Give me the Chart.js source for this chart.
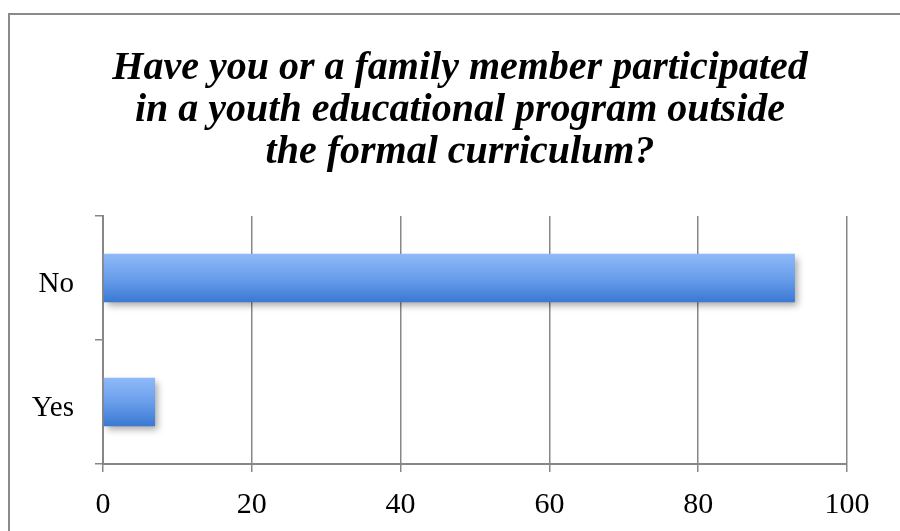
<!DOCTYPE html>
<html>
<head>
<meta charset="utf-8">
<script src="https://cdn.jsdelivr.net/npm/chart.js@4/dist/chart.umd.min.js"></script>
<style>
  html, body { margin: 0; padding: 0; background: #fff; }
  .frame {
    position: absolute; left: 8px; top: 13px; width: 1000px; height: 600px;
    border-left: 2px solid #8a8a8a; border-top: 2px solid #8a8a8a;
  }
  #wrap { position: absolute; left: 0; top: 0; width: 900px; height: 531px; }
</style>
</head>
<body>
<div class="frame"></div>
<div id="wrap"><canvas id="barChart" width="900" height="531"></canvas></div>
<script>
const titleLines = [
  'Have you or a family member participated',
  'in a youth educational program outside',
  'the formal curriculum?'
];
const answers = ['No', 'Yes'];
const responses = [93, 7];
const xTicks = [0, 20, 40, 60, 80, 100];

const serif = '"Liberation Serif", "Times New Roman", serif';
const gridGray = '#878787';

// vertical blue gradient across each bar's own thickness
function barFill(c) {
  const chart = c.chart;
  const area = chart.chartArea;
  if (!area || c.dataIndex === undefined) return '#6a9be6';
  const yScale = chart.scales.y;
  const cy = yScale.getPixelForValue(c.dataIndex);
  const band = (area.bottom - area.top) / answers.length;
  const half = band * 0.8 * 0.49 / 2;
  const g = chart.ctx.createLinearGradient(0, cy - half, 0, cy + half);
  g.addColorStop(0, '#8fbaf9');
  g.addColorStop(0.5, '#6a9eeb');
  g.addColorStop(1, '#3a78d2');
  return g;
}

const barShadow = {
  id: 'barShadow',
  beforeDatasetDraw(chart) {
    const ctx = chart.ctx;
    ctx.save();
    ctx.shadowColor = 'rgba(0,0,0,0.35)';
    ctx.shadowBlur = 7;
    ctx.shadowOffsetX = 3;
    ctx.shadowOffsetY = 4;
  },
  afterDatasetDraw(chart) {
    chart.ctx.restore();
  }
};

new Chart(document.getElementById('barChart').getContext('2d'), {
  type: 'bar',
  data: {
    labels: answers,
    datasets: [{
      data: responses,
      backgroundColor: barFill,
      borderWidth: 0,
      categoryPercentage: 0.8,
      barPercentage: 0.49
    }]
  },
  plugins: [barShadow],
  options: {
    indexAxis: 'y',
    responsive: false,
    animation: false,
    layout: { padding: { left: 20, right: 0, top: 0, bottom: 0 } },
    plugins: {
      legend: { display: false },
      tooltip: { enabled: false },
      title: {
        display: true,
        text: titleLines,
        color: '#000',
        font: { family: serif, size: 40, weight: 'bold', style: 'italic', lineHeight: 42 / 40 },
        padding: { top: 48, bottom: 42 }
      }
    },
    scales: {
      x: {
        min: 0,
        max: 100,
        afterBuildTicks(scale) {
          scale.ticks = xTicks.map(v => ({ value: v }));
        },
        afterFit(scale) {
          scale.height = 67;
          scale.paddingRight = 53;
        },
        ticks: {
          color: '#000',
          padding: 15,
          font: { family: serif, size: 30 }
        },
        grid: {
          color: gridGray,
          lineWidth: 1.5,
          tickLength: 8
        },
        border: { color: gridGray, width: 2 }
      },
      y: {
        afterFit(scale) {
          scale.width = 83;
        },
        ticks: {
          color: '#000',
          padding: 21,
          labelOffset: 6,
          font: { family: serif, size: 29 }
        },
        grid: {
          drawOnChartArea: false,
          color: gridGray,
          lineWidth: 1.5,
          tickLength: 8
        },
        border: { color: gridGray, width: 2 }
      }
    }
  }
});
</script>
</body>
</html>
